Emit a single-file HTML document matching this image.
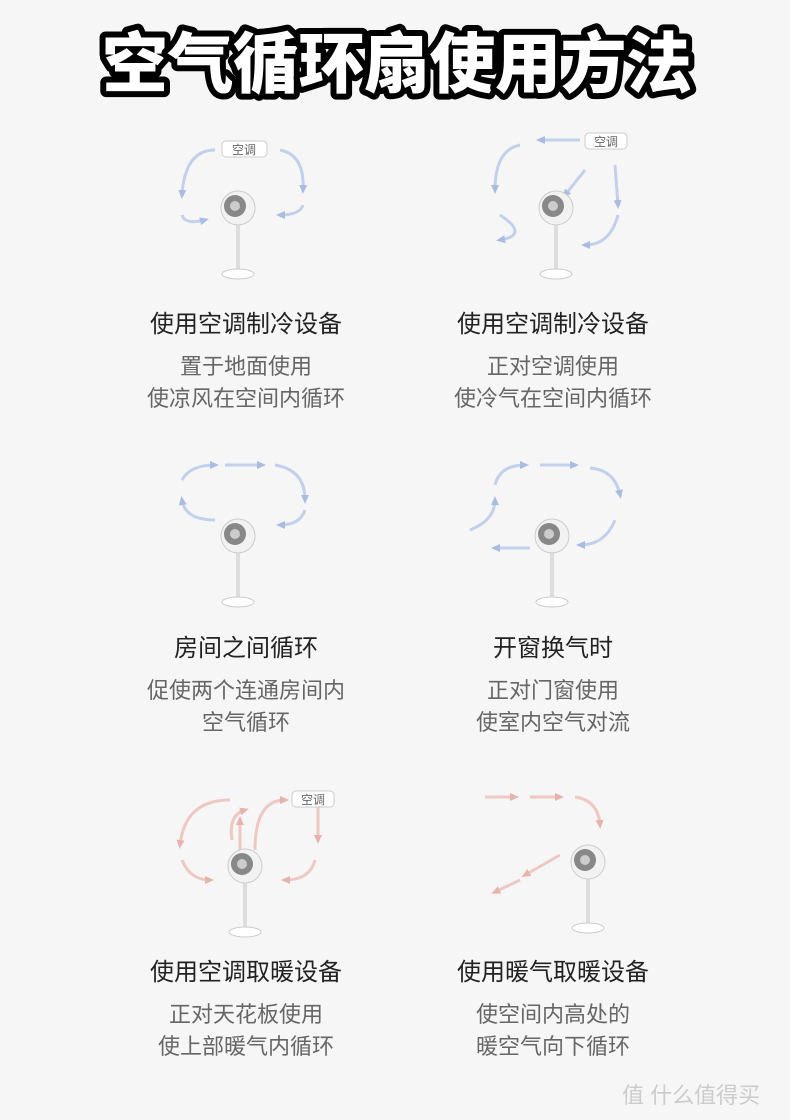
<!DOCTYPE html>
<html><head><meta charset="utf-8"><style>
body{margin:0;background:#f6f6f6;}
.w{position:relative;width:790px;height:1120px;overflow:hidden;font-family:"Liberation Sans","Noto Sans CJK SC",sans-serif;}
.h{position:absolute;width:310px;text-align:center;font-size:24px;color:#222;font-weight:normal;}
.s{position:absolute;width:310px;text-align:center;font-size:22px;color:#666;line-height:32px;}
svg{position:absolute;left:0;top:0}
.wm{position:absolute;left:622px;top:1078px;font-size:22px;color:#ccc;}
</style></head><body><div class="w">
<svg width="790" height="1120">
<defs>
<g id="fan">
<rect x="-2" y="10" width="4" height="50" fill="#ddd"/>
<ellipse cx="0" cy="62" rx="16" ry="5" fill="#fff" stroke="#ccc"/>
<circle cx="0" cy="-4" r="17" fill="#f2f2f2" stroke="#ccc"/>
<circle cx="-3" cy="-6" r="11" fill="#888"/>
<circle cx="-3" cy="-6" r="5" fill="#ccc"/>
</g>
<marker id="ab" markerUnits="userSpaceOnUse" markerWidth="10" markerHeight="10" refX="5" refY="5" orient="auto"><path d="M0,1L9,5L0,9z" fill="#a9bde3"/></marker>
<marker id="ar" markerUnits="userSpaceOnUse" markerWidth="10" markerHeight="10" refX="5" refY="5" orient="auto"><path d="M0,1L9,5L0,9z" fill="#e6b3ad"/></marker>
</defs>
<text x="397" y="87" font-size="66" font-weight="900" text-anchor="middle" fill="#fff" stroke="#000" stroke-width="12" stroke-linejoin="round" paint-order="stroke" font-family="Noto Sans CJK SC" textLength="590">空气循环扇使用方法</text>
<g fill="none" stroke="#c3d0ec" stroke-width="3" marker-end="url(#ab)">
<path d="M215,150 Q185,150 182,195"/><path d="M182,215 Q185,225 205,220"/>
<path d="M280,150 Q305,155 303,190"/><path d="M303,205 Q300,215 280,215"/>
<path d="M580,140 L540,140"/><path d="M520,145 Q495,150 495,190"/><path d="M500,215 Q530,235 500,240"/>
<path d="M615,165 L618,205"/><path d="M618,215 Q610,245 585,245"/><path d="M585,170 L565,195"/>
<path d="M182,480 Q190,465 215,465"/><path d="M225,465 L262,465"/><path d="M275,465 Q305,470 305,500"/><path d="M305,510 Q300,525 280,525"/><path d="M215,520 Q185,520 182,500"/>
<path d="M495,485 Q500,465 525,465"/><path d="M540,465 L575,465"/><path d="M590,468 Q615,470 620,495"/><path d="M615,520 Q605,545 580,545"/><path d="M530,548 L495,548"/><path d="M470,530 Q495,520 495,500"/>
</g>
<g fill="none" stroke="#eec8c3" stroke-width="3" marker-end="url(#ar)">
<path d="M230,800 Q185,800 180,845"/><path d="M182,860 Q190,880 210,880"/><path d="M240,850 L240,820"/><path d="M255,850 Q255,800 285,800"/><path d="M318,805 L318,840"/><path d="M315,860 Q310,880 285,880"/><path d="M232,840 Q228,815 245,810"/>
<path d="M485,797 L515,797"/><path d="M530,797 L560,797"/><path d="M575,797 Q598,800 600,825"/><path d="M560,855 L525,875"/><path d="M520,880 L495,892"/>
</g>
<rect x="222" y="141" width="45" height="16" rx="4" fill="#fff" stroke="#ccc"/>
<text x="244" y="154" font-size="12" text-anchor="middle" fill="#666" font-family="Noto Sans CJK SC">空调</text>
<rect x="585" y="133" width="42" height="16" rx="4" fill="#fff" stroke="#ccc"/>
<text x="606" y="146" font-size="12" text-anchor="middle" fill="#666" font-family="Noto Sans CJK SC">空调</text>
<rect x="292" y="791" width="42" height="16" rx="4" fill="#fff" stroke="#ccc"/>
<text x="313" y="804" font-size="12" text-anchor="middle" fill="#666" font-family="Noto Sans CJK SC">空调</text>
<use href="#fan" x="238" y="212"/><use href="#fan" x="556" y="212"/>
<use href="#fan" x="238" y="540"/><use href="#fan" x="552" y="540"/>
<use href="#fan" x="245" y="870"/><use href="#fan" x="588" y="866"/>
</svg>
<div class="h" style="left:91px;top:304px">使用空调制冷设备</div>
<div class="s" style="left:91px;top:351px">置于地面使用<br>使凉风在空间内循环</div>
<div class="h" style="left:398px;top:304px">使用空调制冷设备</div>
<div class="s" style="left:398px;top:351px">正对空调使用<br>使冷气在空间内循环</div>
<div class="h" style="left:91px;top:628px">房间之间循环</div>
<div class="s" style="left:91px;top:675px">促使两个连通房间内<br>空气循环</div>
<div class="h" style="left:398px;top:628px">开窗换气时</div>
<div class="s" style="left:398px;top:675px">正对门窗使用<br>使室内空气对流</div>
<div class="h" style="left:91px;top:952px">使用空调取暖设备</div>
<div class="s" style="left:91px;top:999px">正对天花板使用<br>使上部暖气内循环</div>
<div class="h" style="left:398px;top:952px">使用暖气取暖设备</div>
<div class="s" style="left:398px;top:999px">使空间内高处的<br>暖空气向下循环</div>
<div class="wm">值 什么值得买</div>
</div></body></html>
